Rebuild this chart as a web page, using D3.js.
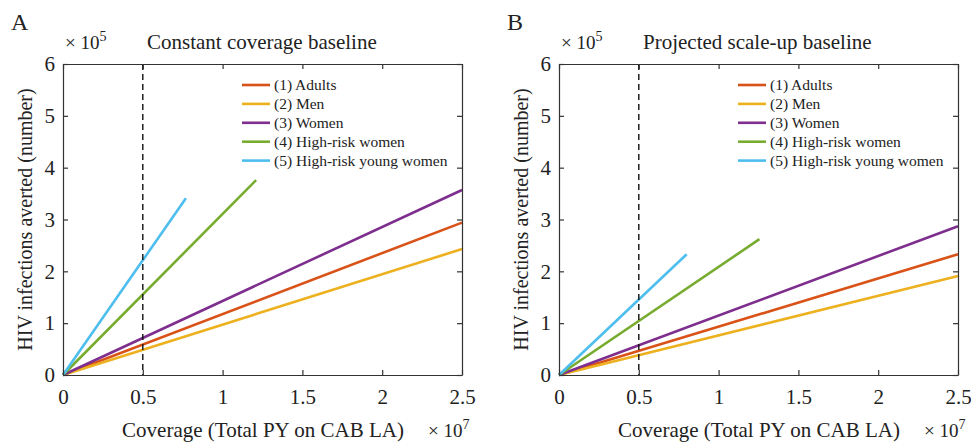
<!DOCTYPE html>
<html><head><meta charset="utf-8">
<script src="https://cdn.jsdelivr.net/npm/d3@7"></script>
<style>body{margin:0;background:#fff}svg{display:block}svg text{font-family:"Liberation Serif","Times New Roman",serif !important;fill:#222}</style>
</head><body>
<svg id="c" width="971" height="445"></svg>
<script>
const seriesNames = ["(1) Adults","(2) Men","(3) Women","(4) High-risk women","(5) High-risk young women"];
const seriesColors = ["#D95319","#EDB120","#7E2F8E","#77AC30","#4DBEEE"];
const xTicks = [0,0.5,1,1.5,2,2.5];
const yTicks = [0,1,2,3,4,5,6];
// end points [x (×10^7), y (×10^5)] for each series, lines start at origin
const panelAEnds = [[2.5,2.94],[2.5,2.43],[2.5,3.57],[1.21,3.76],[0.77,3.41]];
const panelBEnds = [[2.5,2.33],[2.5,1.91],[2.5,2.87],[1.256,2.62],[0.80,2.33]];
const panels = [
  {letter:"A", title:"Constant coverage baseline", ends:panelAEnds, x0:63, legX:242},
  {letter:"B", title:"Projected scale-up baseline", ends:panelBEnds, x0:559, legX:738}
];
const FONT = '"Liberation Serif","Times New Roman",serif';
const svg = d3.select("#c");
const W = 399, yTop = 64, yBot = 375;
panels.forEach(p => {
  const g = svg.append("g");
  const x = d3.scaleLinear().domain([0,2.5]).range([p.x0, p.x0+W]);
  const y = d3.scaleLinear().domain([0,6]).range([yBot, yTop]);
  p.ends.forEach((e,i) => {
    g.append("path").attr("d", d3.line()([[x(0),y(0)],[x(e[0]),y(e[1])]]))
      .attr("stroke", seriesColors[i]).attr("stroke-width", 2.6).attr("fill","none");
  });
  g.append("line").attr("x1",x(0.5)).attr("x2",x(0.5)).attr("y1",yTop).attr("y2",yBot)
    .attr("stroke","#111").attr("stroke-width",1.4).attr("stroke-dasharray","6,4");
  const fmt = d => d===0?"0":String(d);
  const axB = g.append("g").attr("transform",`translate(0,${yBot})`)
    .call(d3.axisBottom(x).tickValues(xTicks).tickFormat(fmt).tickSizeInner(-5).tickSizeOuter(0).tickPadding(14));
  const axT = g.append("g").attr("transform",`translate(0,${yTop})`)
    .call(d3.axisTop(x).tickValues(xTicks).tickFormat("").tickSizeInner(-5).tickSizeOuter(0));
  const axL = g.append("g").attr("transform",`translate(${p.x0},0)`)
    .call(d3.axisLeft(y).tickValues(yTicks).tickFormat(fmt).tickSizeInner(-5).tickSizeOuter(0).tickPadding(8));
  const axR = g.append("g").attr("transform",`translate(${p.x0+W},0)`)
    .call(d3.axisRight(y).tickValues(yTicks).tickFormat("").tickSizeInner(-5).tickSizeOuter(0));
  [axB,axT,axL,axR].forEach(a => {
    a.attr("font-family", FONT);
    a.selectAll(".domain").attr("stroke","#333").attr("stroke-width",1.2);
    a.selectAll(".tick line").attr("stroke","#333").attr("stroke-width",1.2);
    a.selectAll("text").attr("font-family",FONT).style("font-size","21px").attr("fill","#222");
  });
  const T = (sel) => sel.attr("font-family", FONT);
  T(g.append("text")).attr("x", p.x0-52).attr("y",30).style("font-size","24px").text(p.letter);
  const t5 = T(g.append("text")).attr("x", p.x0+2).attr("y",49).style("font-size","19px");
  t5.append("tspan").text("× 10");
  t5.append("tspan").attr("dy",-8).style("font-size","14px").text("5");
  T(g.append("text")).attr("x", p.x0+84).attr("y",49).style("font-size","21px").text(p.title);
  T(g.append("text")).attr("x", p.x0+200).attr("y",437).attr("text-anchor","middle").style("font-size","21px").text("Coverage (Total PY on CAB LA)");
  const t7 = T(g.append("text")).attr("x", p.x0+365).attr("y",437).style("font-size","19px");
  t7.append("tspan").text("× 10");
  t7.append("tspan").attr("dy",-8).style("font-size","14px").text("7");
  T(g.append("text")).attr("transform",`translate(${p.x0-31},${(yTop+yBot)/2}) rotate(-90)`)
    .attr("text-anchor","middle").style("font-size","20px").text("HIV infections averted (number)");
  seriesNames.forEach((n,i) => {
    const yy = 85 + i*18.9;
    g.append("line").attr("x1",p.legX).attr("x2",p.legX+28).attr("y1",yy).attr("y2",yy)
      .attr("stroke",seriesColors[i]).attr("stroke-width",2.6);
    T(g.append("text")).attr("x",p.legX+32).attr("y",yy+5).style("font-size","15.5px").text(n);
  });
});
</script>
</body></html>
